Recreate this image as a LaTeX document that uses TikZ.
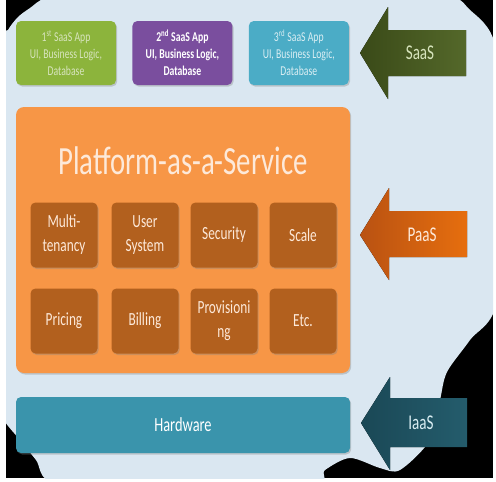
\documentclass[tikz,border=0pt]{standalone}
\usepackage{fontspec}
\setmainfont{Carlito}[FakeStretch=0.72]
\usetikzlibrary{positioning, shadows}

\definecolor{cloudblue}{RGB}{218,231,241}
\definecolor{appgreen}{RGB}{140,180,60}
\definecolor{apppurple}{RGB}{122,78,158}
\definecolor{appcyan}{RGB}{75,172,198}
\definecolor{saasgreen}{RGB}{84,104,42}
\definecolor{saasdark}{RGB}{58,74,24}
\definecolor{saastext}{RGB}{215,228,189}
\definecolor{paasorange}{RGB}{247,150,70}
\definecolor{featbrown}{RGB}{178,96,30}
\definecolor{paasarrow}{RGB}{230,110,14}
\definecolor{paasdark}{RGB}{185,82,18}
\definecolor{paastext}{RGB}{253,233,217}
\definecolor{hwblue}{RGB}{58,148,172}
\definecolor{iaasteal}{RGB}{36,92,108}
\definecolor{iaasdark}{RGB}{26,72,86}
\definecolor{iaastext}{RGB}{218,238,243}

\begin{document}
\begin{tikzpicture}[x=1pt, y=-1pt,
    box/.style={rounded corners=5pt, align=center, inner sep=0pt,
        drop shadow={opacity=0.35, shadow xshift=1.2pt, shadow yshift=-1.5pt}},
    appbox/.style={box, minimum width=100pt, minimum height=64pt,
        font=\fontsize{13.5}{17}\selectfont},
    featbox/.style={box, fill=featbrown, minimum width=67pt, minimum height=65pt,
        text=paastext, font=\fontsize{18.5}{24}\selectfont},
    tag/.style={font=\fontsize{21}{24}\selectfont}]
    \useasboundingbox (0,0) rectangle (496,482);

    % Background frame and cloud
    \fill[black] (6,0) rectangle (493,478);
    \begin{scope}
        \clip (6,0) rectangle (493,478);
        \fill[cloudblue] plot[smooth cycle, tension=0.5] coordinates {
            (46,-2) (80,-3) (120,-3) (128,8) (136,-3) (300,-5) (440,-5)
            (470,10) (495,45) (500,150) (497,300) (470,340) (447,372)
            (440,400) (430,440) (400,470) (380,468) (350,458) (325,470)
            (310,485) (150,485) (54,483) (36,460) (20,440) (4,420)
            (0,400) (0,200) (3,45) (8,30) (18,17) (30,8)};
    \end{scope}

    % SaaS applications
    \node[appbox, fill=appgreen, text=saastext] (app1) at (66,53)
        {1\textsuperscript{st} SaaS App\\UI, Business Logic,\\Database};
    \node[appbox, fill=apppurple, text=white, font=\fontsize{13.5}{17}\selectfont\bfseries,
        right=16pt of app1] (app2)
        {2\textsuperscript{nd} SaaS App\\UI, Business Logic,\\Database};
    \node[appbox, fill=appcyan, text=iaastext, right=16pt of app2] (app3)
        {3\textsuperscript{rd} SaaS App\\UI, Business Logic,\\Database};

    % Platform block
    \node[box, rounded corners=8pt, fill=paasorange, minimum width=334pt,
        minimum height=266pt] (paas) at (183,240) {};
    \node[text=paastext, font=\fontsize{40}{44}\selectfont] (title) at (183,161)
        {Platform-as-a-Service};

    \node[featbox] (multi) at (64,235) {Multi-\\tenancy};
    \node[featbox] (user) at (145,235) {User\\System};
    \node[featbox] (secu) at (224,235) {Security};
    \node[featbox] (scale) at (303,235) {Scale};
    \node[featbox] (price) at (64,321) {Pricing};
    \node[featbox] (bill) at (145,321) {Billing};
    \node[featbox] (prov) at (224,321) {Provisioni\\ng};
    \node[featbox] (etc) at (303,321) {Etc.};

    % Hardware block
    \node[box, fill=hwblue, text=white, minimum width=334pt, minimum height=56pt,
        font=\fontsize{20}{24}\selectfont] (hw) at (183,425) {Hardware};

    % Layer arrows
    \fill[left color=saasdark, right color=saasgreen]
        (360,53) -- (388,7) -- (388,30) -- (466,30) -- (466,76)
        -- (388,76) -- (388,99) -- cycle;
    \node[tag, text=saastext] (saas) at (420,53) {SaaS};

    \fill[left color=paasdark, right color=paasarrow]
        (360,235) -- (389,188) -- (389,211) -- (467,211) -- (467,257)
        -- (389,257) -- (389,280) -- cycle;
    \node[tag, text=paastext] (paaslbl) at (422,235) {PaaS};

    \fill[left color=iaasdark, right color=iaasteal]
        (361,423) -- (390,377) -- (390,398) -- (467,398) -- (467,447)
        -- (390,447) -- (390,470) -- cycle;
    \node[tag, text=iaastext] (iaas) at (421,423) {IaaS};
\end{tikzpicture}
\end{document}
